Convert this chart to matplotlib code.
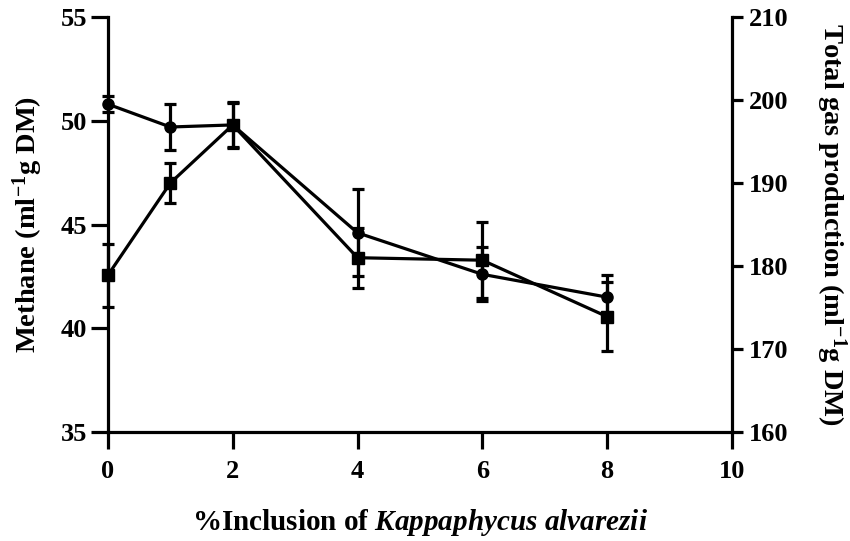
import matplotlib.pyplot as plt
import numpy as np

plt.rcParams['font.family'] = 'Liberation Serif'
plt.rcParams['font.weight'] = 'bold'
plt.rcParams['mathtext.fontset'] = 'custom'
plt.rcParams['mathtext.rm'] = 'Liberation Serif:bold'
plt.rcParams['mathtext.it'] = 'Liberation Serif:italic:bold'
plt.rcParams['mathtext.bf'] = 'Liberation Serif:bold'

# % inclusion levels
inclusion = [0, 1, 2, 4, 6, 8]

# Methane (left axis, circles)
methane = [50.8, 49.7, 49.8, 44.6, 42.6, 41.5]
methane_err = [0.4, 1.1, 1.1, 2.1, 1.3, 1.05]

# Total gas production (right axis, squares)
total_gas = [178.9, 190.0, 197.0, 181.0, 180.7, 173.9]
total_gas_err = [3.8, 2.4, 2.6, 3.6, 4.6, 4.2]

fig = plt.figure(figsize=(8.5, 5.41), dpi=100)
ax = fig.add_axes([0.127, 0.2015, 0.734, 0.767])
ax2 = ax.twinx()

lw = 2.3
ax.errorbar(inclusion, methane, yerr=methane_err, color='black', marker='o',
            markersize=8, linewidth=lw, elinewidth=lw, capsize=4.5, capthick=lw,
            clip_on=False, zorder=3)
ax2.errorbar(inclusion, total_gas, yerr=total_gas_err, color='black', marker='s',
             markersize=8, linewidth=lw, elinewidth=lw, capsize=4.5, capthick=lw,
             clip_on=False, zorder=3)

ax.set_xlim(0, 10)
ax.set_ylim(35, 55)
ax2.set_ylim(160, 210)
ax.set_xticks(np.arange(0, 11, 2))
ax.set_yticks(np.arange(35, 56, 5))
ax2.set_yticks(np.arange(160, 211, 10))

for a in (ax, ax2):
    a.spines['top'].set_visible(False)
    for s in a.spines.values():
        s.set_linewidth(lw)
    a.tick_params(width=lw, labelsize=19, direction='out')
    for lab in a.get_xticklabels() + a.get_yticklabels():
        lab.set_fontweight('bold')
ax.spines['right'].set_visible(False)
ax2.spines['left'].set_visible(False)
ax2.spines['bottom'].set_visible(False)
ax.tick_params(axis='x', length=12, pad=8)
ax.tick_params(axis='y', length=12, pad=3)
ax2.tick_params(axis='y', length=8, pad=4)

ax.set_ylabel('Methane (ml$^{-1}$g DM)', fontsize=20.5, fontweight='bold',
              va='center', ha='center')
ax.yaxis.set_label_coords(-0.128, 0.5)
ax2.set_ylabel('Total gas production (ml$^{-1}$g DM)', fontsize=20.5,
               fontweight='bold', rotation=270, va='center', ha='center')
ax2.yaxis.set_label_coords(1.159, 0.5)
ax.set_xlabel('%Inclusion of $Kappaphycus\\ alvarezii$', fontsize=21,
              fontweight='bold', va='center', ha='center')
ax.xaxis.set_label_coords(0.5, -0.219)

fig.savefig('out.png', dpi=100)
